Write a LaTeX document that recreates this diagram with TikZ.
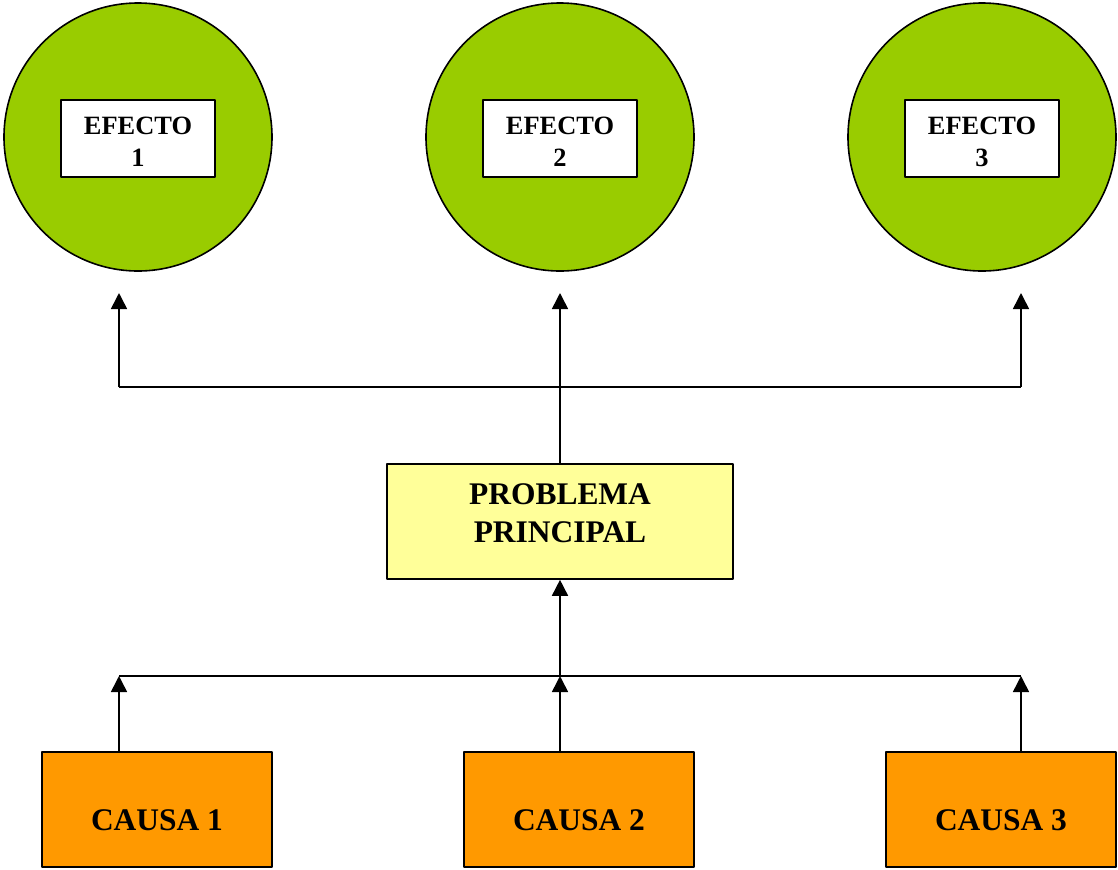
\documentclass[tikz,border=0pt]{standalone}
\usepackage{fontspec}
\setmainfont{Liberation Serif}
\usetikzlibrary{arrows.meta}
\definecolor{verde}{HTML}{99CC00}
\definecolor{amarillo}{HTML}{FFFF99}
\definecolor{naranja}{HTML}{FF9900}
\begin{document}
\begin{tikzpicture}[x=0.75pt,y=-0.75pt,line width=1.2pt,line join=round,>={Triangle[width=12pt,length=12pt]},
		efecto/.style={circle,draw,fill=verde,minimum size=201pt,inner sep=0pt},
		etiqueta/.style={draw,fill=white,minimum width=115.5pt,minimum height=57.75pt,inner sep=0pt},
		caja/.style={draw,minimum height=86.25pt,inner sep=0pt},
		chica/.style={font=\fontsize{19.8}{24}\selectfont\bfseries,align=center},
		grande/.style={font=\fontsize{23.6}{28.5}\selectfont\bfseries,align=center}]
	\useasboundingbox (0,0) rectangle (1118,869);
	% efectos
	\foreach \n/\x in {1/138,2/560,3/982}{
		\node[efecto] (c\n) at (\x,137) {};
		\node[etiqueta] (e\n) at (\x,138.5) {};
		\node[chica] (et\n) at (\x,141.5) {EFECTO\\\n};}
	% problema principal
	\node[caja,fill=amarillo,minimum width=259.5pt] (prob) at (560,521.5) {};
	\node[grande] (probtxt) at (560,513) {PROBLEMA\\PRINCIPAL};
	% causas
	\foreach \n/\x in {1/157,2/579,3/1001}{
		\node[caja,fill=naranja,minimum width=172.5pt] (k\n) at (\x,809.5) {};
		\node[grande] (kt\n) at (\x,820.5) {CAUSA \n};}
	\foreach \n/\x in {1/119,2/560,3/1021}{
		\coordinate (p\n) at (\x,293);
		\coordinate (q\n) at (\x,387);
		\coordinate (r\n) at (\x,676);}
	\draw (q1)--(q3);
	\draw (prob.north)--(q2);
	\foreach \n in {1,2,3}{
		\draw[->] (q\n)--(p\n);
		\draw[->] (r\n |- k\n.north)--(r\n);}
	\draw (r1)--(r3);
	\draw[->] (r2)--(prob.south);
\end{tikzpicture}
\end{document}
